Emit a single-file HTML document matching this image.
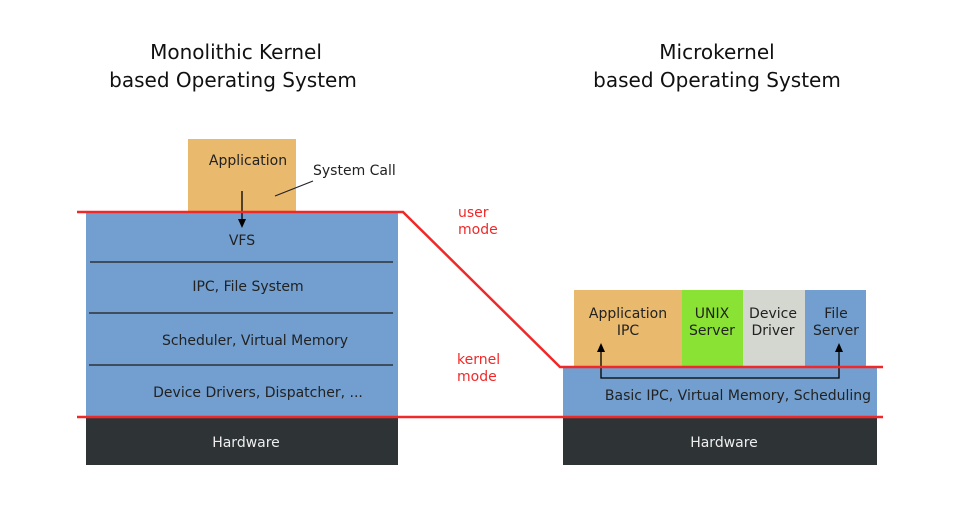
<!DOCTYPE html>
<html><head><meta charset="utf-8"><style>body{margin:0;background:#fff}</style></head><body>
<svg width="962" height="509" viewBox="0 0 962 509" xmlns="http://www.w3.org/2000/svg" font-family="DejaVu Sans, Liberation Sans, sans-serif">
<text x="236" y="59" font-size="20" text-anchor="middle" fill="#111">Monolithic Kernel</text>
<text x="233" y="87" font-size="20" text-anchor="middle" fill="#111">based Operating System</text>
<text x="717" y="59" font-size="20" text-anchor="middle" fill="#111">Microkernel</text>
<text x="717" y="87" font-size="20" text-anchor="middle" fill="#111">based Operating System</text>
<rect x="188" y="139" width="108" height="73" fill="#e9b96e"/>
<text x="248" y="165" font-size="14" text-anchor="middle" fill="#222">Application</text>
<text x="313" y="175" font-size="14" fill="#222">System Call</text>
<line x1="275" y1="196" x2="313" y2="181" stroke="#222" stroke-width="1.2"/>
<rect x="86" y="212" width="312" height="205" fill="#729fcf"/>
<g stroke="#2e3436" stroke-width="1.5"><line x1="90" y1="262" x2="393" y2="262"/><line x1="89" y1="313" x2="393" y2="313"/><line x1="89" y1="365" x2="393" y2="365"/></g>
<text x="242" y="245" font-size="14" text-anchor="middle" fill="#222">VFS</text>
<text x="248" y="291" font-size="14" text-anchor="middle" fill="#222">IPC, File System</text>
<text x="255" y="345" font-size="14" text-anchor="middle" fill="#222">Scheduler, Virtual Memory</text>
<text x="258" y="397" font-size="14" text-anchor="middle" fill="#222">Device Drivers, Dispatcher, ...</text>
<rect x="86" y="418" width="312" height="47" fill="#2e3436"/>
<text x="246" y="447" font-size="14" text-anchor="middle" fill="#eee">Hardware</text>
<line x1="242" y1="191" x2="242" y2="226" stroke="#000" stroke-width="1.3"/>
<path d="M238,219 L246,219 L242,228 z" fill="#000"/>
<rect x="574" y="290" width="108" height="77" fill="#e9b96e"/>
<rect x="682" y="290" width="61" height="77" fill="#8ae234"/>
<rect x="743" y="290" width="62" height="77" fill="#d3d7cf"/>
<rect x="805" y="290" width="61" height="77" fill="#729fcf"/>
<g font-size="14" text-anchor="middle" fill="#222">
<text x="628" y="318">Application</text><text x="628" y="335">IPC</text>
<text x="712" y="318">UNIX</text><text x="712" y="335">Server</text>
<text x="773" y="318">Device</text><text x="773" y="335">Driver</text>
<text x="836" y="318">File</text><text x="836" y="335">Server</text>
</g>
<rect x="563" y="367" width="314" height="50" fill="#729fcf"/>
<text x="738" y="400" font-size="14" text-anchor="middle" fill="#222">Basic IPC, Virtual Memory, Scheduling</text>
<rect x="563" y="418" width="314" height="47" fill="#2e3436"/>
<text x="724" y="447" font-size="14" text-anchor="middle" fill="#eee">Hardware</text>
<polyline points="601,350 601,378 839,378 839,350" fill="none" stroke="#000" stroke-width="1.3"/>
<path d="M597,352 L605,352 L601,343 z" fill="#000"/>
<path d="M835,352 L843,352 L839,343 z" fill="#000"/>
<polyline points="77,212 403,212 560,367 883,367" fill="none" stroke="#ef2929" stroke-width="2.5"/>
<line x1="77" y1="417" x2="883" y2="417" stroke="#ef2929" stroke-width="2.5"/>
<g font-size="14" fill="#ef2929"><text x="458" y="217">user</text><text x="458" y="234">mode</text><text x="457" y="364">kernel</text><text x="457" y="381">mode</text></g>
</svg>
</body></html>
